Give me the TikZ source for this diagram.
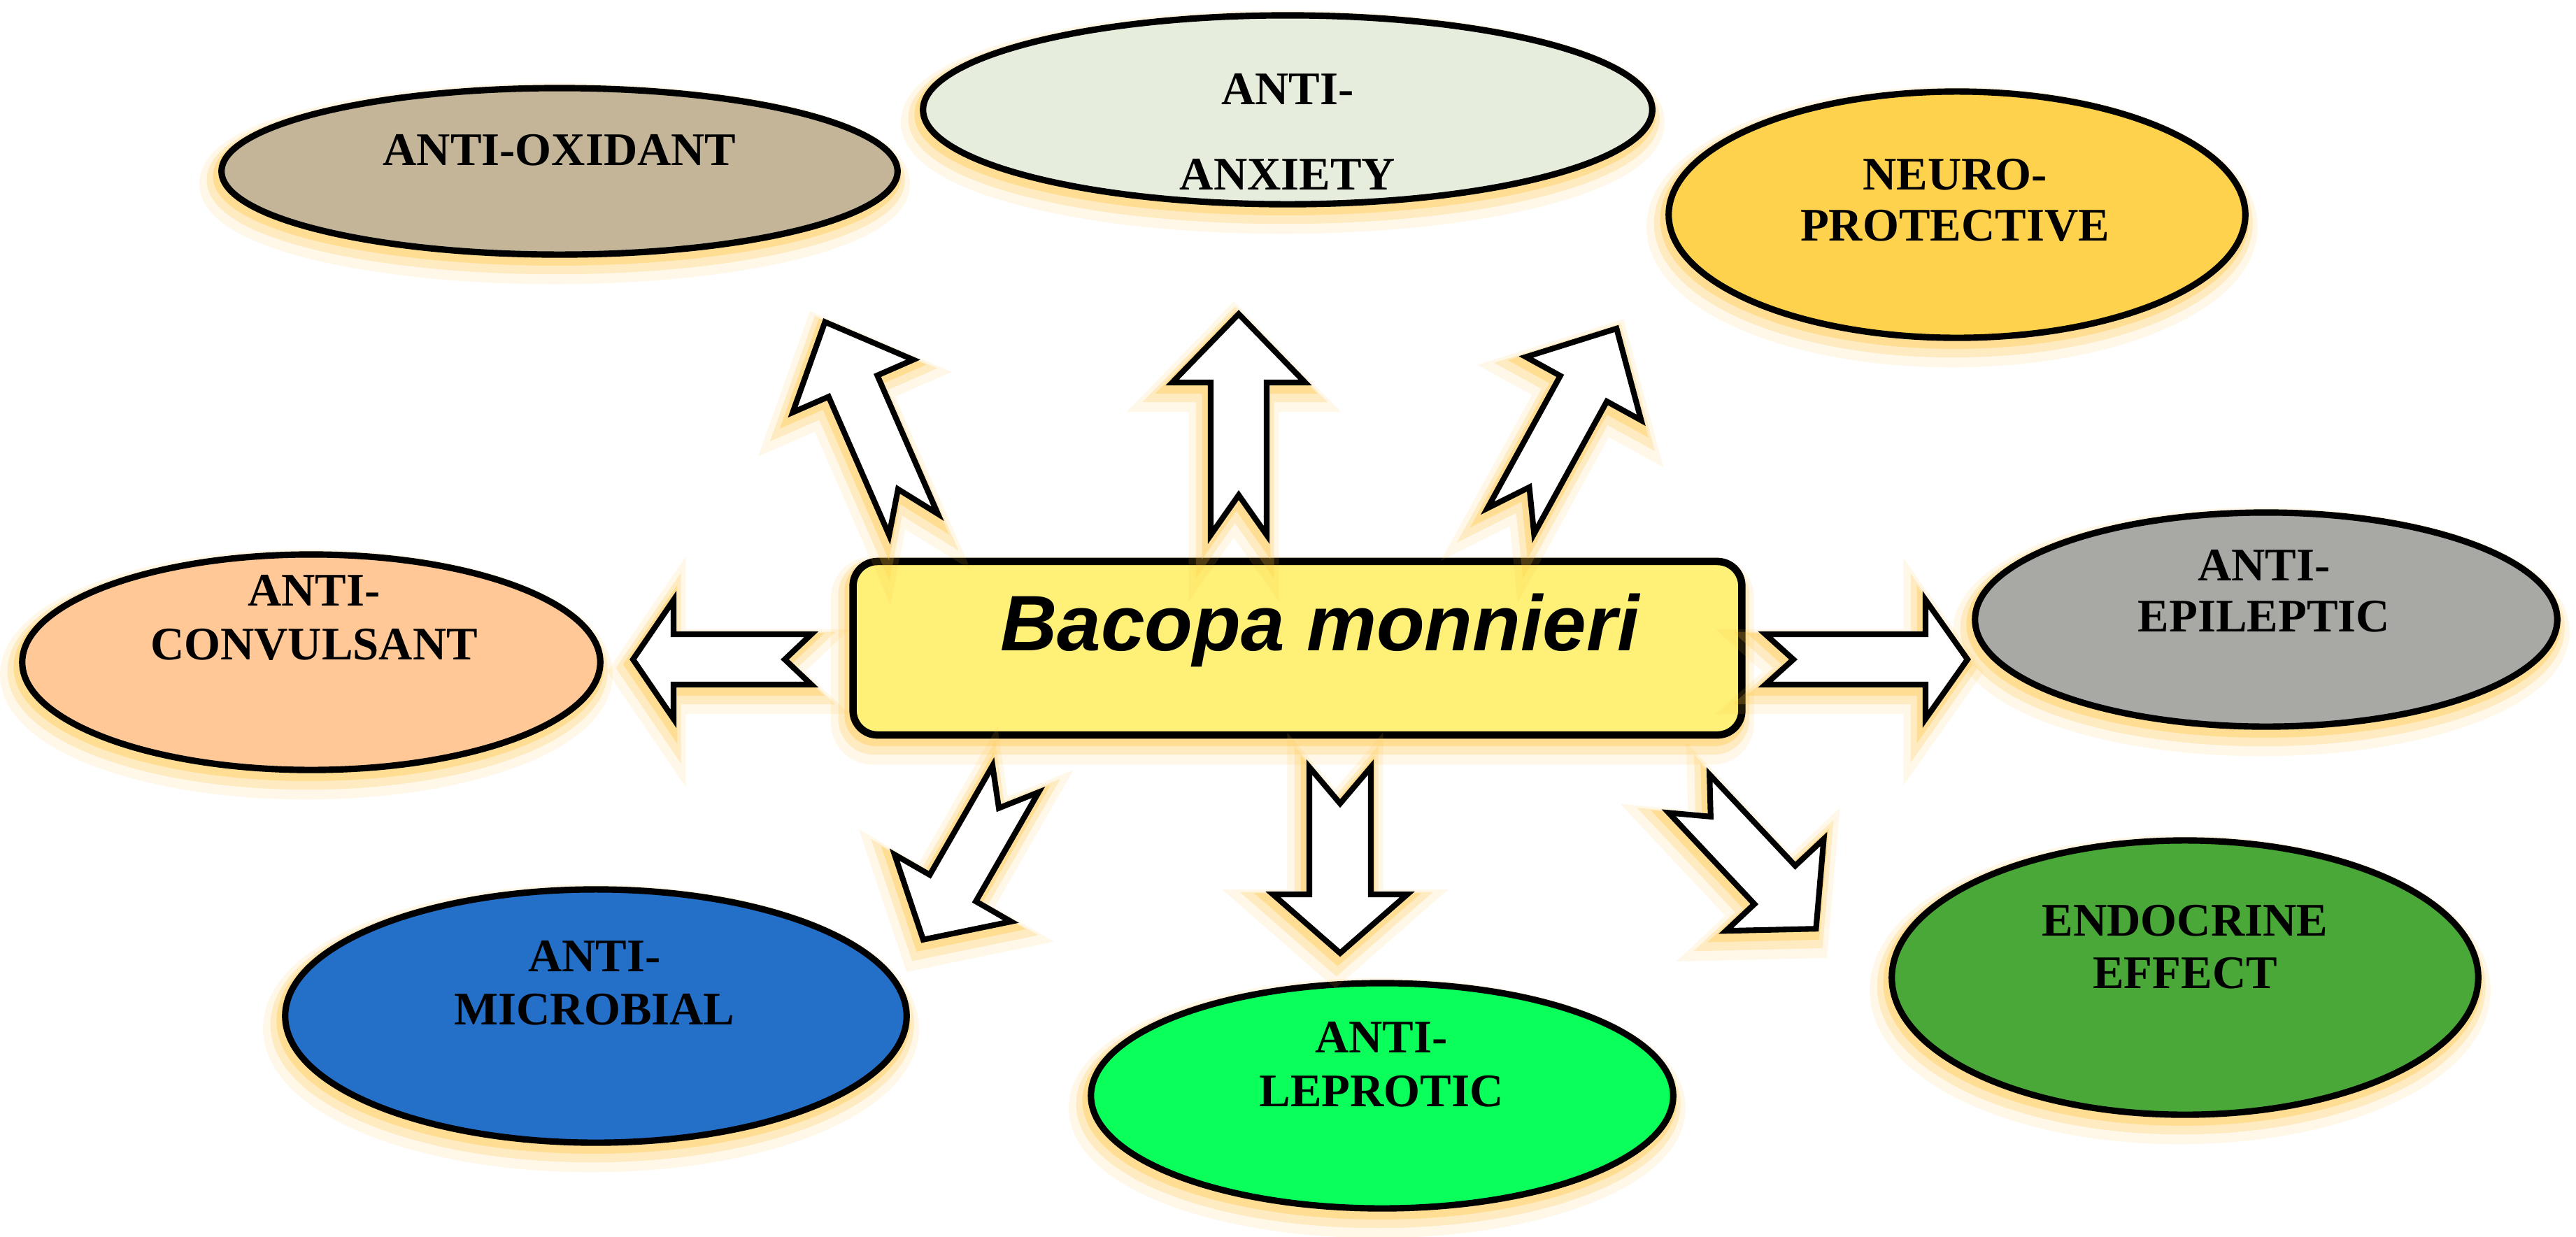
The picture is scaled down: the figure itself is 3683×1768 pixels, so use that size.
\documentclass[tikz,border=0pt]{standalone}
\usepackage{fontspec}
\setmainfont{Liberation Serif}
\newfontfamily\boxfont{Liberation Sans}
\usetikzlibrary{shapes.geometric}
\definecolor{glowc}{RGB}{255,196,60}
\definecolor{cOx}{RGB}{196,181,153}
\definecolor{cAnx}{RGB}{230,237,221}
\definecolor{cNeu}{RGB}{255,210,78}
\definecolor{cCon}{RGB}{255,200,150}
\definecolor{cEpi}{RGB}{168,168,165}
\definecolor{cMic}{RGB}{36,112,200}
\definecolor{cLep}{RGB}{10,255,90}
\definecolor{cEnd}{RGB}{74,168,56}
\definecolor{cBox}{RGB}{255,240,120}
\tikzset{
  glow/.style={
    preaction={draw=glowc, draw opacity=0.12, line width=14pt, transform canvas={xshift=-2pt,yshift=-5pt}},
    preaction={draw=glowc, draw opacity=0.22, line width=9pt, transform canvas={xshift=-1.5pt,yshift=-3.5pt}},
    preaction={draw=glowc, draw opacity=0.35, line width=5pt, transform canvas={xshift=-1pt,yshift=-2pt}}},
  oval/.style={ellipse, draw=black, line width=2.6pt, inner sep=0pt, glow},
  lbl/.style={font=\fontsize{19}{19}\selectfont\bfseries, anchor=base, inner sep=0pt},
  blockarrow/.style={draw=black, fill=white, line width=2.3pt, line join=miter, glow}
}
\newcommand\notcharrow[7]{%
  \draw[blockarrow, shift={#1}, rotate=#2] (0,#4) -- ({#3-#6},#4) -- ({#3-#6},#5) -- (#3,0)
    -- ({#3-#6},-#5) -- ({#3-#6},-#4) -- (0,-#4) -- (#7,0) -- cycle;}
\begin{document}
\begin{tikzpicture}[x=0.01cm, y=-0.01cm]
\useasboundingbox[fill=white] (0,0) rectangle (3683,1768);

% ellipses
\node[oval, fill=cOx,  minimum width=9.66cm,  minimum height=2.38cm] (e1) at (800,245) {};
\node[oval, fill=cAnx, minimum width=10.42cm, minimum height=2.70cm] (e2) at (1841,157) {};
\node[oval, fill=cNeu, minimum width=8.24cm,  minimum height=3.52cm] (e3) at (2798,307) {};
\node[oval, fill=cCon, minimum width=8.26cm,  minimum height=3.08cm] (e4) at (445,947) {};
\node[oval, fill=cEpi, minimum width=8.32cm,  minimum height=3.06cm] (e5) at (3240,886) {};
\node[oval, fill=cMic, minimum width=8.88cm,  minimum height=3.62cm] (e6) at (852,1453) {};
\node[oval, fill=cLep, minimum width=8.32cm,  minimum height=3.22cm] (e7) at (1976,1567) {};
\node[oval, fill=cEnd, minimum width=8.38cm,  minimum height=3.92cm] (e8) at (3124,1398) {};

% labels
\node[lbl] (t1)  at (800,236)  {ANTI-OXIDANT};
\node[lbl] (t2a) at (1841,149) {ANTI-};
\node[lbl] (t2b) at (1841,271) {ANXIETY};
\node[lbl] (t3a) at (2795,271) {NEURO-};
\node[lbl] (t3b) at (2795,344) {PROTECTIVE};
\node[lbl] (t4a) at (449,866)  {ANTI-};
\node[lbl] (t4b) at (449,943)  {CONVULSANT};
\node[lbl] (t5a) at (3237,830) {ANTI-};
\node[lbl] (t5b) at (3237,903) {EPILEPTIC};
\node[lbl] (t6a) at (850,1389) {ANTI-};
\node[lbl] (t6b) at (850,1465) {MICROBIAL};
\node[lbl] (t7a) at (1975,1505) {ANTI-};
\node[lbl] (t7b) at (1975,1582) {LEPROTIC};
\node[lbl] (t8a) at (3124,1338) {ENDOCRINE};
\node[lbl] (t8b) at (3124,1413) {EFFECT};

% centre box
\node[draw=black, line width=3pt, fill=cBox, rounded corners=0.35cm,
      minimum width=12.7cm, minimum height=2.48cm, inner sep=0pt, glow] (c) at (1855,927) {};
\node[font={\boxfont\fontsize{32}{36}\selectfont\bfseries\itshape}, anchor=base, inner sep=0pt] (ct) at (1887,930) {Bacopa monnieri};

% block arrows
\notcharrow{(1306,750)}{113.6}{316}{38}{94}{100}{55}
\notcharrow{(1771,765)}{90}{316}{40}{95}{98}{57}
\notcharrow{(2160,745)}{61.2}{314}{38}{94}{98}{55}
\notcharrow{(1160,943)}{180}{255}{36}{85}{58}{38}
\notcharrow{(2524,943)}{0}{289}{36}{85}{60}{40}
\notcharrow{(1916,1097)}{270}{266}{44}{96}{84}{52}
\notcharrow{(1452,1114)}{240.1}{265}{38}{96}{85}{48}
\notcharrow{(2415,1135)}{-46.8}{265}{40}{96}{86}{45}
\end{tikzpicture}
\end{document}
